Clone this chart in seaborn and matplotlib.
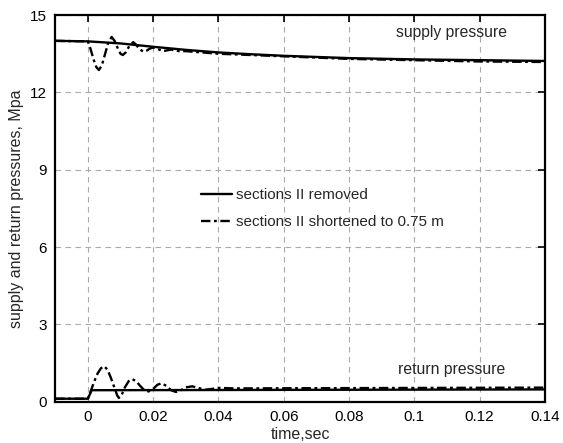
import matplotlib
matplotlib.use("Agg")
import matplotlib.pyplot as plt
import seaborn as sns

# ---- data ----
supply_removed_t = [-0.01, 0.0, 0.01, 0.02, 0.03, 0.04, 0.05, 0.06, 0.08, 0.10, 0.12, 0.14]
supply_removed_p = [14.0, 13.98, 13.9, 13.77, 13.65, 13.55, 13.48, 13.42, 13.33, 13.28, 13.25, 13.22]

supply_short_t = [-0.01, 0.0, 0.0008, 0.0017, 0.0026, 0.0034, 0.0043, 0.0053, 0.0063, 0.0073,
                  0.0082, 0.0092, 0.0100, 0.0107, 0.0116, 0.0127, 0.0139, 0.0148, 0.0158,
                  0.0170, 0.0180, 0.0190, 0.0200, 0.0215, 0.0230, 0.0255, 0.0280, 0.030,
                  0.04, 0.06, 0.08, 0.10, 0.12, 0.14]
supply_short_p = [14.0, 13.98, 13.7, 13.3, 12.98, 12.87, 13.05, 13.5, 13.95, 14.15,
                  14.0, 13.7, 13.5, 13.45, 13.55, 13.8, 13.95, 13.85, 13.68,
                  13.58, 13.62, 13.7, 13.74, 13.68, 13.6, 13.66, 13.6, 13.6,
                  13.5, 13.4, 13.3, 13.25, 13.2, 13.18]

return_removed_t = [-0.01, 0.0, 0.0012, 0.005, 0.14]
return_removed_p = [0.12, 0.12, 0.45, 0.45, 0.48]

return_short_t = [-0.01, 0.0, 0.001, 0.002, 0.003, 0.004, 0.005, 0.006, 0.007, 0.008, 0.009,
                  0.0095, 0.0103, 0.0113, 0.0125, 0.0136, 0.0148, 0.016, 0.0173, 0.0186,
                  0.020, 0.0213, 0.0226, 0.024, 0.0255, 0.027, 0.0285, 0.030, 0.032, 0.034,
                  0.036, 0.038, 0.040, 0.045, 0.14]
return_short_p = [0.12, 0.12, 0.45, 0.8, 1.1, 1.3, 1.38, 1.25, 0.95, 0.6, 0.25,
                  0.15, 0.25, 0.55, 0.8, 0.88, 0.8, 0.62, 0.45, 0.4,
                  0.5, 0.66, 0.72, 0.62, 0.45, 0.38, 0.45, 0.56, 0.6, 0.53,
                  0.47, 0.5, 0.54, 0.52, 0.55]

label_removed = "sections II removed"
label_short = "sections II shortened to 0.75 m"

x_ticks = [0, 0.02, 0.04, 0.06, 0.08, 0.1, 0.12, 0.14]
x_tick_labels = ["0", "0.02", "0.04", "0.06", "0.08", "0.1", "0.12", "0.14"]
y_ticks = [0, 3, 6, 9, 12, 15]

sns.set_style("white")
plt.rcParams['font.family'] = ['Liberation Sans', 'DejaVu Sans']

fig, ax = plt.subplots(figsize=(5.63, 4.43), dpi=100)
fig.subplots_adjust(left=0.098, right=0.968, top=0.966, bottom=0.093)

dashdot = (0, (4, 1.5, 1.2, 1.5))

sns.lineplot(x=supply_removed_t, y=supply_removed_p, ax=ax, color="black", lw=1.7,
             label=label_removed, sort=False)
sns.lineplot(x=supply_short_t, y=supply_short_p, ax=ax, color="black", lw=1.7,
             linestyle=dashdot, label=label_short, sort=False)
sns.lineplot(x=return_removed_t, y=return_removed_p, ax=ax, color="black", lw=1.7, sort=False)
sns.lineplot(x=return_short_t, y=return_short_p, ax=ax, color="black", lw=1.7,
             linestyle=dashdot, sort=False)

ax.set_xlim(-0.01, 0.14)
ax.set_ylim(0, 15)
ax.set_xticks(x_ticks)
ax.set_xticklabels(x_tick_labels)
ax.set_yticks(y_ticks)
ax.tick_params(direction="in", top=True, right=True, length=5, width=1.2,
               labelsize=11, colors="black", pad=6)
ax.grid(True, linestyle=(0, (5, 4)), color="#aaaaaa", linewidth=0.8)
for s in ax.spines.values():
    s.set_color("black")
    s.set_linewidth(1.6)

ax.set_xlabel("time,sec", fontsize=11.5, labelpad=2)
ax.set_ylabel("supply and return pressures, Mpa", fontsize=11.5, labelpad=4)

ax.text(0.1115, 14.05, "supply pressure", fontsize=11.3, ha="center", va="bottom")
ax.text(0.1115, 0.95, "return pressure", fontsize=11.3, ha="center", va="bottom")

ax.legend(loc="center left", bbox_to_anchor=(0.27, 0.5), frameon=False, fontsize=11,
          handlelength=2.0, handletextpad=0.3, labelspacing=0.85)

fig.savefig("out.png", dpi=100)
